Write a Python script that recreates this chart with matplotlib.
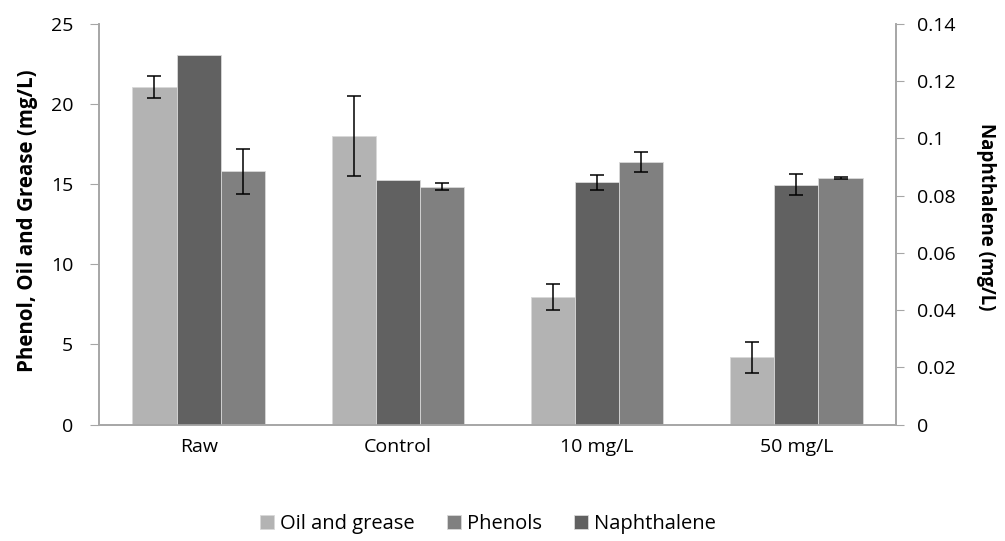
import matplotlib
matplotlib.use("Agg")
import matplotlib.pyplot as plt
from matplotlib.ticker import FuncFormatter, MultipleLocator
import numpy as np

categories = ['Raw', 'Control', '10 mg/L', '50 mg/L']
oil_grease = [21.05, 18.0, 7.95, 4.2]
oil_grease_err = [0.7, 2.5, 0.83, 0.96]
naphthalene = [0.129, 0.0855, 0.0846, 0.0838]
naphthalene_err = [0.0, 0.0, 0.0027, 0.0037]
phenols = [15.8, 14.85, 16.37, 15.38]
phenols_err = [1.4, 0.23, 0.63, 0.05]

c_oil = '#B3B3B3'
c_phe = '#808080'
c_nap = '#616161'
spine_c = '#A6A6A6'

plt.rcParams['font.family'] = ['Open Sans', 'DejaVu Sans']

fig = plt.figure(figsize=(10.05, 5.41), dpi=100)
ax = fig.add_axes([99/1005, 1-424.5/541, (896-99)/1005, (424.5-24)/541])
ax2 = ax.twinx()

x = np.arange(len(categories)) + 0.5
w = 0.222
ekw = dict(ecolor='black', elinewidth=1.1, capsize=5, capthick=1.1)

b1 = ax.bar(x - w, oil_grease, w, color=c_oil, edgecolor='#D9D9D9', linewidth=0.6,
            yerr=oil_grease_err, error_kw=ekw, zorder=2)
b3 = ax.bar(x + w, phenols, w, color=c_phe, edgecolor='#D9D9D9', linewidth=0.6,
            yerr=phenols_err, error_kw=ekw, zorder=2)
b2 = ax2.bar(x, naphthalene, w, color=c_nap, edgecolor='#D9D9D9', linewidth=0.6, zorder=2)
mask = np.array(naphthalene_err) > 0
ax2.errorbar(x[mask], np.array(naphthalene)[mask], yerr=np.array(naphthalene_err)[mask],
             fmt='none', ecolor='black', elinewidth=1.1, capsize=5, capthick=1.1)

ax.set_xlim(0, 4)
ax.set_ylim(0, 25)
ax2.set_ylim(0, 0.14)
ax.yaxis.set_major_locator(MultipleLocator(5))
ax2.yaxis.set_major_locator(MultipleLocator(0.02))
ax2.yaxis.set_major_formatter(FuncFormatter(lambda v, p: '%g' % round(v, 4)))

ax.set_xticks(x)
ax.set_xticklabels(categories)

for a in (ax, ax2):
    a.spines['top'].set_visible(False)
    for s in ('left', 'right', 'bottom'):
        a.spines[s].set_color(spine_c)
        a.spines[s].set_linewidth(1.2)
ax.tick_params(axis='x', length=0, labelsize=14, pad=10, colors='black')
ax.tick_params(axis='y', length=6.5, color=spine_c, labelsize=14, pad=12)
ax2.tick_params(axis='y', length=6, color=spine_c, labelsize=14, pad=9)
ax2.tick_params(axis='x', length=0)

ax.set_ylabel('Phenol, Oil and Grease (mg/L)', fontsize=14.8, fontweight='bold')
ax.yaxis.set_label_coords(-0.076, 0.51)
ax2.set_ylabel('Naphthalene (mg/L)', fontsize=13.5, fontweight='bold', rotation=270, va='center')
ax2.yaxis.set_label_coords(1.113, 0.518)

fig.legend([b1, b3, b2], ['Oil and grease', 'Phenols', 'Naphthalene'],
           loc='center', bbox_to_anchor=(488/1005, 1-524/541), ncol=3, frameon=False,
           fontsize=14.5, handlelength=0.7, handleheight=0.7, handletextpad=0.3,
           columnspacing=1.6)

fig.savefig('out.png', dpi=100)
